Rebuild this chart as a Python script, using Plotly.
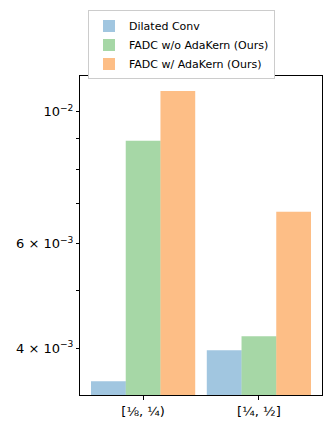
# Frequency band comparison - bar chart on log y-axis
import plotly.graph_objects as go

# Data
categories = ["[⅛, ¼)", "[¼, ½]"]
series_names = ["Dilated Conv", "FADC w/o AdaKern (Ours)", "FADC w/ AdaKern (Ours)"]
dilated_conv = [0.00352, 0.00397]
fadc_wo_adakern = [0.00894, 0.00419]
fadc_w_adakern = [0.01084, 0.00679]

y_tick_vals = [0.004, 0.005, 0.006, 0.007, 0.008, 0.009, 0.01]
y_tick_text = ["4 × 10<sup>−3</sup>", "", "6 × 10<sup>−3</sup>", "", "", "", "10<sup>−2</sup>"]

colors = ["rgba(31,119,180,0.42)", "rgba(44,160,44,0.42)", "rgba(252,125,14,0.5)"]

fig = go.Figure()
for name, vals, col in zip(series_names, [dilated_conv, fadc_wo_adakern, fadc_w_adakern], colors):
    fig.add_trace(go.Bar(
        x=[0, 1], y=vals, name=name,
        marker=dict(color=col, line=dict(width=0)),
    ))

fig.update_layout(
    barmode='group',
    bargap=0.1,
    bargroupgap=0,
    width=333, height=438,
    margin=dict(l=80, r=11, t=74, b=43),
    plot_bgcolor='white',
    paper_bgcolor='white',
    font=dict(family="DejaVu Sans", size=13, color='black'),
    legend=dict(
        x=8 / 242, y=1 + 66 / 321,
        xanchor='left', yanchor='top',
        bordercolor='#cccccc', borderwidth=1,
        font=dict(size=11),
    ),
)

fig.update_xaxes(
    range=[-0.545, 1.545],
    tickvals=[0, 1], ticktext=categories, tickangle=0,
    ticks='outside', ticklen=4, tickcolor='black',
    showline=True, linecolor='black', linewidth=1, mirror=True,
    showgrid=False, zeroline=False,
)
fig.update_yaxes(
    type='log',
    range=[-2.4765, -1.9398],
    tickvals=y_tick_vals, ticktext=y_tick_text,
    ticks='outside', ticklen=3, tickcolor='black',
    showline=True, linecolor='black', linewidth=1, mirror=True,
    showgrid=False, zeroline=False,
)

fig.write_html("out.html", config={'displayModeBar': False},
               post_script="document.body.style.margin='0';")
